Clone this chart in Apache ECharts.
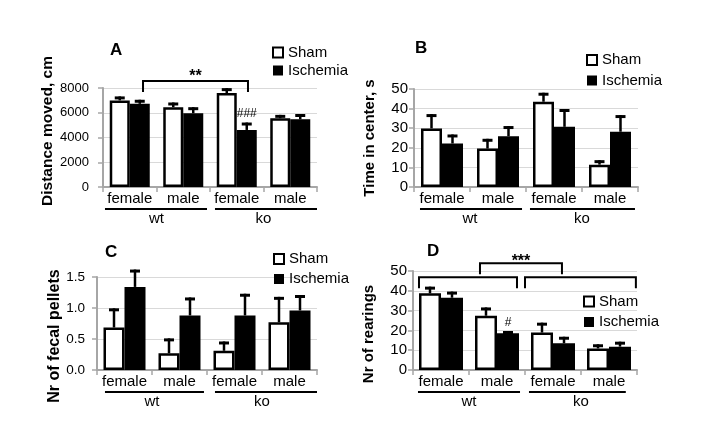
<!DOCTYPE html>
<html>
<head>
<meta charset="utf-8">
<script src="https://cdn.jsdelivr.net/npm/echarts@6/dist/echarts.min.js"></script>
<style>
html,body{margin:0;padding:0;background:#fff;}
#chart{width:702px;height:440px;}
</style>
</head>
<body>
<div id="chart"></div>
<script>
// ---------- data ----------
const categories = ['female', 'male', 'female', 'male'];
const groups = ['wt', 'ko'];
const legendNames = ['Sham', 'Ischemia'];

// A: Distance moved, cm
const distSham = [7000, 6450, 7590, 5560];
const distShamErr = [320, 380, 400, 270];
const distIsch = [6720, 5960, 4610, 5470];
const distIschErr = [330, 490, 600, 430];

// B: Time in center, s
const centerSham = [29.9, 19.6, 43.5, 11.4];
const centerShamErr = [7.3, 5.0, 4.6, 2.3];
const centerIsch = [22.2, 25.9, 30.7, 28.2];
const centerIschErr = [4.6, 5.2, 9.1, 8.5];

// C: Nr of fecal pellets
const pelletsSham = [0.685, 0.27, 0.31, 0.77];
const pelletsShamErr = [0.31, 0.24, 0.15, 0.41];
const pelletsIsch = [1.34, 0.88, 0.88, 0.96];
const pelletsIschErr = [0.28, 0.29, 0.35, 0.25];

// D: Nr of rearings
const rearSham = [38.7, 27.4, 18.9, 10.9];
const rearShamErr = [3.4, 4.2, 5.0, 2.1];
const rearIsch = [36.5, 18.5, 13.5, 11.8];
const rearIschErr = [3.1, 1.2, 3.3, 2.5];

// ---------- layout ----------
const FONT = 'Liberation Sans';
const AXIS_GRAY = '#a6a6a6';
const GRID_GRAY = '#d9d9d9';

const panels = [
  { key: 'A', sham: distSham, shamErr: distShamErr, isch: distIsch, ischErr: distIschErr,
    yName: 'Distance moved, cm', max: 8000, interval: 2000, decimals: 0,
    grid: { left: 103, top: 88, width: 214, height: 99 }, barW: 20,
    nameGap: 47, namePad: [0, 0, 0, 13], nameFont: 15.5, tickFont: 13, tickMargin: 14,
    title: { left: 110, top: 42 }, legend: { left: 272, top: 45, itemGap: 3 },
    underlines: [[0.037, 1.944], [2.093, 4.0]],
    brackets: [{ u0: 0.748, u1: 2.71, v: 8570, tick: 11, text: '**', dy: 4 }],
    marks: [{ cat: 2, side: 1, text: '###', dy: -3 }] },
  { key: 'B', sham: centerSham, shamErr: centerShamErr, isch: centerIsch, ischErr: centerIschErr,
    yName: 'Time in center, s', max: 50, interval: 10, decimals: 0,
    grid: { left: 414, top: 89, width: 224, height: 98 }, barW: 21,
    nameGap: 37, namePad: [0, 0, 0, 0], nameFont: 15, tickFont: 15, tickMargin: 6,
    title: { left: 415, top: 40 }, legend: { left: 586, top: 52.5, itemGap: 5.5 },
    underlines: [[0.107, 1.929], [2.071, 3.946]],
    brackets: [], marks: [] },
  { key: 'C', sham: pelletsSham, shamErr: pelletsShamErr, isch: pelletsIsch, ischErr: pelletsIschErr,
    yName: 'Nr of fecal pellets', max: 1.5, interval: 0.5, decimals: 1,
    grid: { left: 97, top: 277, width: 220, height: 93 }, barW: 21,
    nameGap: 22, namePad: [0, 25, 0, 0], nameFont: 16, tickFont: 13.5, tickMargin: 12,
    title: { left: 105, top: 244 }, legend: { left: 273, top: 251.5, itemGap: 5 },
    underlines: [[0.145, 1.945], [2.145, 4.0]],
    brackets: [], marks: [] },
  { key: 'D', sham: rearSham, shamErr: rearShamErr, isch: rearIsch, ischErr: rearIschErr,
    yName: 'Nr of rearings', max: 50, interval: 10, decimals: 0,
    grid: { left: 413, top: 271, width: 224, height: 99 }, barW: 22,
    nameGap: 37, namePad: [0, 27, 0, 0], nameFont: 15, tickFont: 15, tickMargin: 6,
    title: { left: 427, top: 243 }, legend: { left: 583, top: 294, itemGap: 5.5 },
    underlines: [[0.089, 1.911], [2.071, 3.8]],
    brackets: [
      { u0: 0.107, u1: 1.857, v: 46.8, tick: 11 },
      { u0: 2.0, u1: 3.98, v: 46.8, tick: 11 },
      { u0: 1.196, u1: 2.66, v: 53.9, tick: 11, text: '***', dy: 6 }
    ],
    marks: [{ cat: 1, side: 1, text: '#', dy: -2 }] }
];

// ---------- renderers ----------
function errRender(offset) {
  return function (params, api) {
    const i = api.value(0), v = api.value(1), e = api.value(2);
    const c = api.coord([i, v]);
    const t = api.coord([i, v + e]);
    const x = c[0] + offset;
    return {
      type: 'group',
      children: [
        { type: 'line', shape: { x1: x, y1: c[1], x2: x, y2: t[1] }, style: { stroke: '#000', lineWidth: 2.5 } },
        { type: 'line', shape: { x1: x - 5, y1: t[1] + 1.5, x2: x + 5, y2: t[1] + 1.5 }, style: { stroke: '#000', lineWidth: 3 } }
      ]
    };
  };
}

function annotRender(p) {
  return function (params, api) {
    const band = api.size([1, 0])[0];
    const left = api.coord([0, 0])[0] - band / 2;
    const base = api.coord([0, 0])[1];
    const X = u => left + u * band;
    const Y = v => api.coord([0, v])[1];
    const ch = [];
    p.underlines.forEach(([a, b]) => {
      ch.push({ type: 'line', shape: { x1: X(a), y1: base + 22, x2: X(b), y2: base + 22 },
        style: { stroke: '#000', lineWidth: 2 } });
    });
    p.brackets.forEach(br => {
      const y = Y(br.v);
      ch.push({ type: 'polyline',
        shape: { points: [[X(br.u0), y + br.tick], [X(br.u0), y], [X(br.u1), y], [X(br.u1), y + br.tick]] },
        style: { stroke: '#000', lineWidth: 2, fill: null } });
      if (br.text) {
        ch.push({ type: 'text', x: (X(br.u0) + X(br.u1)) / 2, y: y + br.dy,
          style: { text: br.text, fill: '#000', font: 'bold 16px ' + FONT, align: 'center', verticalAlign: 'bottom' } });
      }
    });
    p.marks.forEach(m => {
      const vals = m.side ? p.isch : p.sham;
      const errs = m.side ? p.ischErr : p.shamErr;
      const top = Y(vals[m.cat] + errs[m.cat]);
      const x = api.coord([m.cat, 0])[0] + (m.side ? 1 : -1) * p.barW / 2;
      ch.push({ type: 'text', x: x, y: top + m.dy,
        style: { text: m.text, fill: '#000', font: '12px ' + FONT, align: 'center', verticalAlign: 'bottom' } });
    });
    return { type: 'group', children: ch };
  };
}

// ---------- option ----------
const option = {
  animation: false,
  backgroundColor: '#fff',
  textStyle: { fontFamily: FONT },
  title: [], legend: [], grid: [], xAxis: [], yAxis: [], series: []
};

panels.forEach((p, g) => {
  option.grid.push(Object.assign({ containLabel: false }, p.grid));
  option.title.push({ text: p.key, left: p.title.left, top: p.title.top, padding: 0,
    textStyle: { fontSize: 17, fontWeight: 'bold', color: '#000', fontFamily: FONT } });
  option.legend.push({
    orient: 'vertical', left: p.legend.left, top: p.legend.top, padding: 0,
    itemWidth: 10, itemHeight: 10, itemGap: p.legend.itemGap, selectedMode: false,
    textStyle: { fontSize: 15, color: '#000', fontFamily: FONT },
    data: [
      { name: legendNames[0], icon: 'rect', itemStyle: { color: '#fff', borderColor: '#000', borderWidth: 2 } },
      { name: legendNames[1], icon: 'rect', itemStyle: { color: '#000', borderColor: '#000', borderWidth: 0 } }
    ]
  });
  option.xAxis.push({
    type: 'category', gridIndex: g, data: categories, position: 'bottom',
    axisLine: { lineStyle: { color: AXIS_GRAY, width: 2 } },
    axisTick: { show: true, length: 5, lineStyle: { color: AXIS_GRAY, width: 1.5 } },
    axisLabel: { fontSize: 15, color: '#000', margin: 4, interval: 0, fontFamily: FONT },
    splitLine: { show: false }
  });
  option.xAxis.push({
    type: 'category', gridIndex: g, data: groups, position: 'bottom',
    axisLine: { show: false }, axisTick: { show: false },
    axisLabel: { fontSize: 15, color: '#000', margin: 24, interval: 0, fontFamily: FONT },
    splitLine: { show: false }
  });
  option.yAxis.push({
    type: 'value', gridIndex: g, min: 0, max: p.max, interval: p.interval,
    name: p.yName, nameLocation: 'middle', nameGap: p.nameGap,
    nameTextStyle: { fontSize: p.nameFont, fontWeight: 'bold', color: '#000', fontFamily: FONT, padding: p.namePad },
    axisLine: { show: true, lineStyle: { color: AXIS_GRAY, width: 2 } },
    axisTick: { show: true, length: 5, lineStyle: { color: AXIS_GRAY, width: 1.5 } },
    splitLine: { show: true, lineStyle: { color: GRID_GRAY, width: 1 } },
    axisLabel: { fontSize: p.tickFont, color: '#000', margin: p.tickMargin, fontFamily: FONT,
      formatter: v => v.toFixed(p.decimals) }
  });
  const xi = g * 2;
  option.series.push({
    name: legendNames[0], type: 'bar', xAxisIndex: xi, yAxisIndex: g, data: p.sham,
    barWidth: p.barW, barGap: '0%',
    itemStyle: { color: '#fff', borderColor: '#000', borderWidth: 2.5 }, z: 2
  });
  option.series.push({
    name: legendNames[1], type: 'bar', xAxisIndex: xi, yAxisIndex: g, data: p.isch,
    barWidth: p.barW, barGap: '0%',
    itemStyle: { color: '#000', borderColor: '#000', borderWidth: 2.5 }, z: 2
  });
  option.series.push({
    name: 'errSham' + p.key, type: 'custom', xAxisIndex: xi, yAxisIndex: g,
    data: p.sham.map((v, i) => [i, v, p.shamErr[i]]), encode: { x: 0, y: 1 },
    renderItem: errRender(-p.barW / 2), z: 3, silent: true
  });
  option.series.push({
    name: 'errIsch' + p.key, type: 'custom', xAxisIndex: xi, yAxisIndex: g,
    data: p.isch.map((v, i) => [i, v, p.ischErr[i]]), encode: { x: 0, y: 1 },
    renderItem: errRender(p.barW / 2), z: 3, silent: true
  });
  option.series.push({
    name: 'annot' + p.key, type: 'custom', xAxisIndex: xi, yAxisIndex: g,
    data: [[0, 0]], encode: { x: 0, y: 1 },
    renderItem: annotRender(p), z: 4, silent: true, clip: false
  });
});

const chart = echarts.init(document.getElementById('chart'), null, { renderer: 'canvas' });
chart.setOption(option);
</script>
</body>
</html>
